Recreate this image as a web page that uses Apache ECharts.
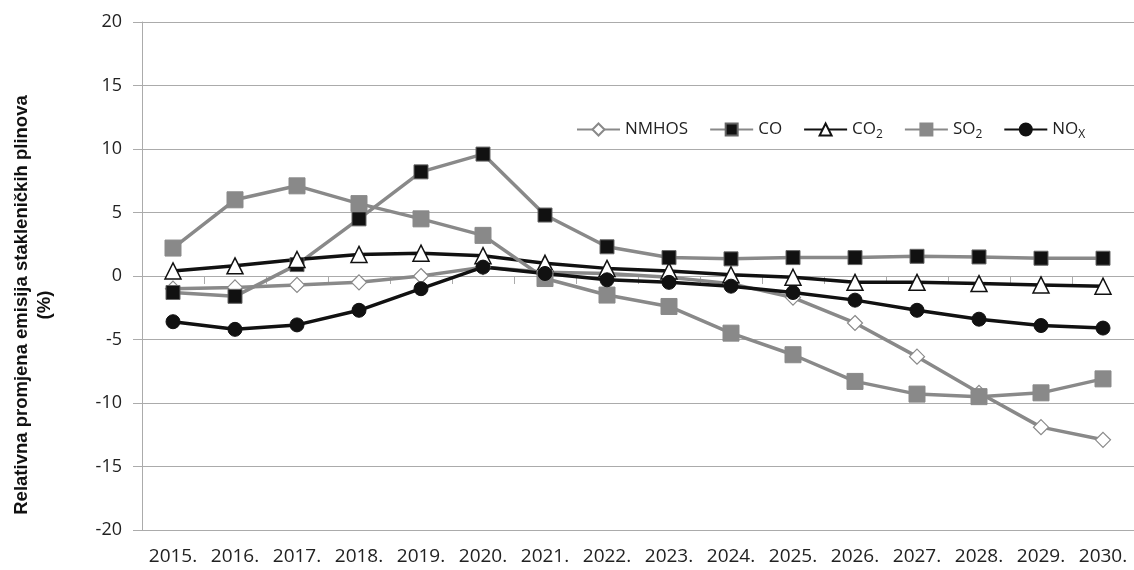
<!DOCTYPE html>
<html>
<head>
<meta charset="utf-8">
<script src="https://cdn.jsdelivr.net/npm/echarts@6/dist/echarts.min.js"></script>
<style>
html,body{margin:0;padding:0;background:#fff;}
#chart{width:1134px;height:570px;}
</style>
</head>
<body>
<div id="chart"></div>
<script>
// ---- data ----
var years = ['2015.','2016.','2017.','2018.','2019.','2020.','2021.','2022.','2023.','2024.','2025.','2026.','2027.','2028.','2029.','2030.'];
var nmhos = [-1.0, -0.9, -0.7, -0.5, 0.0, 0.7, 0.3, 0.2, -0.1, -0.6, -1.7, -3.7, -6.35, -9.2, -11.9, -12.9];
var co    = [-1.3, -1.6, 0.9, 4.5, 8.2, 9.6, 4.8, 2.3, 1.45, 1.35, 1.45, 1.45, 1.55, 1.5, 1.4, 1.4];
var co2   = [0.4, 0.8, 1.3, 1.7, 1.8, 1.6, 1.0, 0.6, 0.4, 0.1, -0.1, -0.5, -0.5, -0.6, -0.7, -0.8];
var so2   = [2.2, 6.0, 7.1, 5.7, 4.5, 3.2, -0.2, -1.5, -2.4, -4.5, -6.2, -8.3, -9.3, -9.5, -9.2, -8.1];
var nox   = [-3.6, -4.2, -3.85, -2.7, -1.0, 0.7, 0.2, -0.3, -0.5, -0.8, -1.3, -1.9, -2.7, -3.4, -3.9, -4.1];
var seriesNames = ['NMHOS','CO','CO2','SO2','NOx'];
var legendLabels = {
  'NMHOS': 'NMHOS',
  'CO': 'CO',
  'CO2': 'CO{sub|2}',
  'SO2': 'SO{sub|2}',
  'NOx': 'NO{sub|X}'
};
var yTitle = 'Relativna promjena emisija stakleničkih plinova\n(%)';

var GRAY = '#898989';
var BLACK = '#111111';
var GRID = '#ababab';

var chart = echarts.init(document.getElementById('chart'), null, {renderer:'canvas'});
var option = {
  animation: false,
  backgroundColor: '#ffffff',
  grid: {left: 142, right: 0, top: 22, bottom: 40, containLabel: false},
  legend: {
    left: 571, top: 116,
    itemWidth: 43, itemHeight: 15, itemGap: 21,
    data: seriesNames,
    formatter: function(n){ return legendLabels[n]; },
    textStyle: {
      fontFamily: 'Open Sans', fontSize: 17, color: '#222',
      rich: {
        sub: {fontFamily: 'Open Sans', fontSize: 12, color: '#222', padding: [10,0,0,0]}
      }
    }
  },
  xAxis: [{
    type: 'category', data: years, position: 'bottom',
    boundaryGap: true,
    axisLine: {onZero: false, show: true, lineStyle: {color: GRID, width: 1}},
    axisTick: {show: false},
    axisLabel: {margin: 17, fontFamily: 'Open Sans', fontSize: 19, color: '#222', interval: 0}
  }, {
    type: 'category', data: years, position: 'bottom',
    boundaryGap: true,
    axisLine: {onZero: true, show: true, lineStyle: {color: GRID, width: 1}},
    axisTick: {show: true, length: 8, inside: false, lineStyle: {color: GRID}},
    axisLabel: {show: false}
  }],
  yAxis: {
    type: 'value', min: -20, max: 20, interval: 5,
    axisLine: {show: true, lineStyle: {color: GRID, width: 1}},
    axisTick: {show: true, length: 9, lineStyle: {color: GRID}},
    splitLine: {show: true, lineStyle: {color: GRID, width: 1}},
    axisLabel: {margin: 20, fontFamily: 'Open Sans', fontSize: 18, color: '#222'}
  },
  graphic: [{
    type: 'text',
    x: 33, y: 305,
    rotation: Math.PI / 2,
    style: {
      text: yTitle,
      font: 'bold 18.5px "Liberation Sans", Arial, sans-serif',
      fill: '#111',
      align: 'center',
      verticalAlign: 'middle',
      lineHeight: 23
    }
  }],
  series: [{
    name: 'NMHOS', type: 'line', data: nmhos, xAxisIndex: 0,
    symbol: 'diamond', symbolSize: 15, showAllSymbol: true,
    lineStyle: {color: GRAY, width: 3.5},
    itemStyle: {color: '#ffffff', borderColor: GRAY, borderWidth: 1.2}
  }, {
    name: 'CO', type: 'line', data: co, xAxisIndex: 0,
    symbol: 'rect', symbolSize: 14, showAllSymbol: true,
    lineStyle: {color: GRAY, width: 3.5},
    itemStyle: {color: BLACK, borderColor: '#666', borderWidth: 1}
  }, {
    name: 'CO2', type: 'line', data: co2, xAxisIndex: 0,
    symbol: 'triangle', symbolSize: 16, showAllSymbol: true,
    lineStyle: {color: BLACK, width: 3.5},
    itemStyle: {color: '#ffffff', borderColor: BLACK, borderWidth: 1.5}
  }, {
    name: 'SO2', type: 'line', data: so2, xAxisIndex: 0,
    symbol: 'rect', symbolSize: 16, showAllSymbol: true,
    lineStyle: {color: GRAY, width: 3.5},
    itemStyle: {color: GRAY, borderColor: GRAY, borderWidth: 1}
  }, {
    name: 'NOx', type: 'line', data: nox, xAxisIndex: 0,
    symbol: 'circle', symbolSize: 14, showAllSymbol: true,
    lineStyle: {color: BLACK, width: 3.5},
    itemStyle: {color: BLACK, borderColor: BLACK, borderWidth: 1}
  }]
};
chart.setOption(option);
</script>
</body>
</html>
